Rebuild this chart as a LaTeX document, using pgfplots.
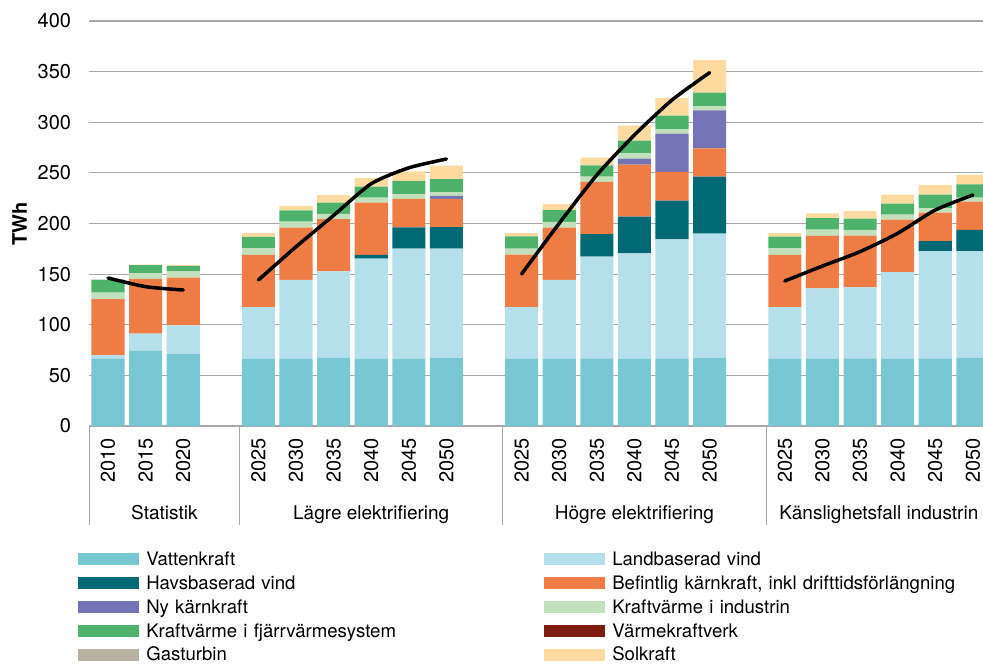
\documentclass[border=0pt]{standalone}
\usepackage{fontspec}
\setmainfont{TeX Gyre Heros}
\usepackage{pgfplots}
\usepackage{pgfplotstable}
\pgfplotsset{compat=1.18}
\usetikzlibrary{calc}

\definecolor{cVat}{HTML}{7AC7D4}
\definecolor{cLand}{HTML}{B5E0EB}
\definecolor{cHav}{HTML}{006973}
\definecolor{cBef}{HTML}{EE7D45}
\definecolor{cNy}{HTML}{7473B5}
\definecolor{cKvi}{HTML}{C3E0BD}
\definecolor{cKvf}{HTML}{4EB26B}
\definecolor{cVarm}{HTML}{7F1D12}
\definecolor{cGas}{HTML}{B8B2A3}
\definecolor{cSol}{HTML}{FDDBA0}
\definecolor{gridgray}{HTML}{A8A8A8}

% x = slot index (3, 10, 17 are the gaps between groups)
\pgfplotstableread{
x  vat   land  hav   bef   ny    kvi  kvf   varm gas sol
0  66.2  3.9   0     55.3  0     6.3  12.8  0    0   0
1  74.4  16.8  0     54.0  0     5.6  8.2   0    0   0.5
2  71.1  28.3  0     47.1  0     6.3  5.2   0    0   1.0
4  66.2  51.3  0     51.4  0     6.6  11.2  0    0   3.9
5  66.2  78.0  0     51.7  0     5.9  11.2  0    0   4.3
6  67.2  85.6  0     51.6  0     5.0  11.2  0    0   7.5
7  66.2  99.1  3.6   51.7  0     4.9  10.9  0    0   8.5
8  66.6  108.5 21.1  28.0  0     4.6  13.2  0    0   9.5
9  67.0  108.1 21.4  27.7  3.0   3.9  12.8  0    0   13.2
11 66.2  51.3  0     51.7  0     5.9  12.2  0    0   3.3
12 66.2  78.0  0     51.7  0     5.6  11.8  0    0   6.0
13 66.8  100.4 22.4  51.4  0     5.3  11.2  0    0   7.5
14 66.2  104.3 36.2  51.4  5.9   5.3  12.5  0    0   14.8
15 66.8  117.6 38.1  28.4  37.8  4.6  13.2  0    0   17.5
16 67.5  122.5 56.3  28.0  37.5  4.2  13.2  0    0   32.3
18 66.2  51.3  0     51.4  0     6.6  11.5  0    0   3.6
19 66.2  69.8  0     51.7  0     6.2  11.5  0    0   4.6
20 66.8  70.2  0     51.0  0     5.6  11.2  0    0   7.5
21 66.2  85.9  0     51.7  0     4.9  10.9  0    0   8.9
22 66.8  106.0 9.9   28.0  0     4.6  13.2  0    0   9.5
23 67.2  105.6 20.8  27.9  0     4.0  13.2  0    0   9.5
}\mix

\begin{document}
\begin{tikzpicture}
\begin{axis}[name=ax,
  scale only axis, width=893.8pt, height=405pt,
  xmin=-0.5, xmax=23.27, ymin=0, ymax=400,
  ybar stacked, bar width=0.88, enlarge x limits=false,
  clip mode=individual,
  axis line style={draw=none}, tick style={draw=none},
  ymajorgrids, grid style={draw=gridgray, line width=1.2pt},
  ytick={0,50,...,400},
  xtick={0,1,2,4,5,6,7,8,9,11,12,13,14,15,16,18,19,20,21,22,23},
  xticklabels={2010,2015,2020,2025,2030,2035,2040,2045,2050,2025,2030,2035,2040,2045,2050,2025,2030,2035,2040,2045,2050},
  /pgf/number format/assume math mode=true,
  tick label style={font=\fontsize{20}{20}\selectfont},
  yticklabel style={inner xsep=0pt, xshift=-18pt},
  xticklabel style={rotate=90, anchor=east, inner xsep=12pt, inner ysep=0pt},
  legend columns=2, legend cell align=left,
  legend style={at={(rel axis cs:0,0)}, anchor=north west, xshift=-10.9pt, yshift=-127pt,
    draw=none, fill=none, inner sep=0pt, outer sep=0pt, row sep=11.2pt, column sep=0pt,
    font=\fontsize{18.6}{18.6}\selectfont,
    nodes={inner xsep=7pt, inner ysep=0pt, text height=12.6pt, text depth=0pt, text width=391pt, align=left}},
  legend image code/.code={\fill[#1] (0pt,-6pt) rectangle (61pt,6pt);},
]
\addplot[fill=cVat, draw=none] table[x=x, y=vat]{\mix};
\addlegendentry{Vattenkraft}
\addplot[fill=cLand, draw=none] table[x=x, y=land]{\mix};
\addlegendentry{Landbaserad vind}
\addplot[fill=cHav, draw=none] table[x=x, y=hav]{\mix};
\addlegendentry{Havsbaserad vind}
\addplot[fill=cBef, draw=none] table[x=x, y=bef]{\mix};
\addlegendentry{Befintlig kärnkraft, inkl drifttidsförlängning}
\addplot[fill=cNy, draw=none] table[x=x, y=ny]{\mix};
\addlegendentry{Ny kärnkraft}
\addplot[fill=cKvi, draw=none] table[x=x, y=kvi]{\mix};
\addlegendentry{Kraftvärme i industrin}
\addplot[fill=cKvf, draw=none] table[x=x, y=kvf]{\mix};
\addlegendentry{Kraftvärme i fjärrvärmesystem}
\addplot[fill=cVarm, draw=none] table[x=x, y=varm]{\mix};
\addlegendentry{Värmekraftverk}
\addplot[fill=cGas, draw=none] table[x=x, y=gas]{\mix};
\addlegendentry{Gasturbin}
\addplot[fill=cSol, draw=none] table[x=x, y=sol]{\mix};
\addlegendentry{Solkraft}

% group separators and names
\draw[gridgray, line width=1pt] (axis cs:-0.5,0) -- ++(0pt,-99pt);
\draw[gridgray, line width=1pt] (axis cs:3.5,0) -- ++(0pt,-99pt);
\draw[gridgray, line width=1pt] (axis cs:10.5,0) -- ++(0pt,-99pt);
\draw[gridgray, line width=1pt] (axis cs:17.5,0) -- ++(0pt,-99pt);
\node[anchor=base, yshift=-93pt, font=\fontsize{19}{19}\selectfont] at (axis cs:1.5,0) {Statistik};
\node[anchor=base, yshift=-93pt, font=\fontsize{19}{19}\selectfont] at (axis cs:7,0) {Lägre elektrifiering};
\node[anchor=base, yshift=-93pt, font=\fontsize{19}{19}\selectfont] at (axis cs:14,0) {Högre elektrifiering};
\node[anchor=base, yshift=-93pt, font=\fontsize{19}{19}\selectfont] at (axis cs:20.5,0) {Känslighetsfall industrin};
\node[xshift=-69.7pt, yshift=202pt, rotate=90, inner sep=0pt, font=\fontsize{20}{20}\selectfont\bfseries] at (rel axis cs:0,0) {TWh};
\end{axis}

% demand lines, not stacked
\begin{axis}[at={(ax.south west)}, anchor=south west,
  scale only axis, width=893.8pt, height=405pt,
  xmin=-0.5, xmax=23.27, ymin=0, ymax=400, hide axis]
\addplot[black, line width=3.5pt, line cap=round, smooth, tension=0.4] coordinates {(0,146.2) (1,137.6) (2,134.3)};
\addplot[black, line width=3.5pt, line cap=round, smooth, tension=0.4] coordinates {(4,144.2) (5,177) (6,208) (7,239.3) (8,255) (9,263.7)};
\addplot[black, line width=3.5pt, line cap=round, smooth, tension=0.4] coordinates {(11,150.1) (12,200.2) (13,247.9) (14,287.4) (15,322) (16,349)};
\addplot[black, line width=3.5pt, line cap=round, smooth, tension=0.4] coordinates {(18,143.2) (19,158) (20,172.2) (21,190.3) (22,213.3) (23,228.1)};
\end{axis}

\pgfresetboundingbox
\path[use as bounding box] ($(ax.south west)+(-89.2pt,-238pt)$) rectangle ($(ax.north east)+(0pt,21pt)$);
\end{tikzpicture}
\end{document}
